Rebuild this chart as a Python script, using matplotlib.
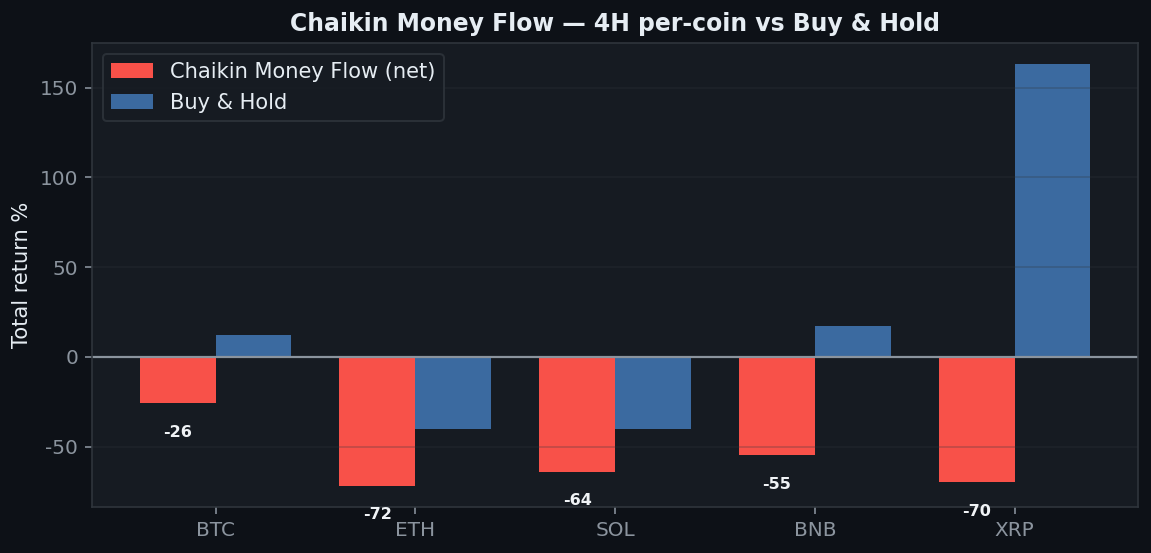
import numpy as np
import matplotlib
matplotlib.use("Agg")
import matplotlib.pyplot as plt

coins = ["BTC", "ETH", "SOL", "BNB", "XRP"]
cmf_net = [-26, -72, -64, -55, -70]
buy_hold = [12, -40, -40, 17, 163]

plt.rcParams["axes.unicode_minus"] = False

fig, ax = plt.subplots(figsize=(1151 / 144, 553 / 144), dpi=144)
fig.patch.set_facecolor("#0d1117")
ax.set_facecolor("#161b22")
fig.subplots_adjust(left=0.080, right=0.9887, top=0.922, bottom=0.083)

x = np.arange(len(coins))
w = 0.38
ax.bar(x - w / 2, cmf_net, w, color="#f85149", label="Chaikin Money Flow (net)")
ax.bar(x + w / 2, buy_hold, w, color="#3b6aa0", label="Buy & Hold")

for xi, v in zip(x, cmf_net):
    ax.text(xi - w / 2, v - 16, f"{v:.0f}", ha="center", va="center",
            color="#f0f3f6", fontsize=8, fontweight="bold")

ax.axhline(0, color="#8b949e", lw=1.1)
ax.grid(axis="y", color="#30363d", alpha=0.3, lw=0.8)

ax.set_xticks(x)
ax.set_xticklabels(coins)
ax.tick_params(colors="#8b949e", labelsize=10)
for s in ax.spines.values():
    s.set_color("#30363d")

ax.set_ylabel("Total return %", color="#e6edf3", fontsize=10.5)
ax.set_title("Chaikin Money Flow — 4H per-coin vs Buy & Hold",
             color="#e6edf3", fontsize=11.75, fontweight="bold")

leg = ax.legend(loc="upper left", fontsize=10.5, facecolor="#161b22",
                edgecolor="#30363d", labelcolor="#e6edf3")

fig.savefig("out.png", dpi=144, facecolor=fig.get_facecolor())
